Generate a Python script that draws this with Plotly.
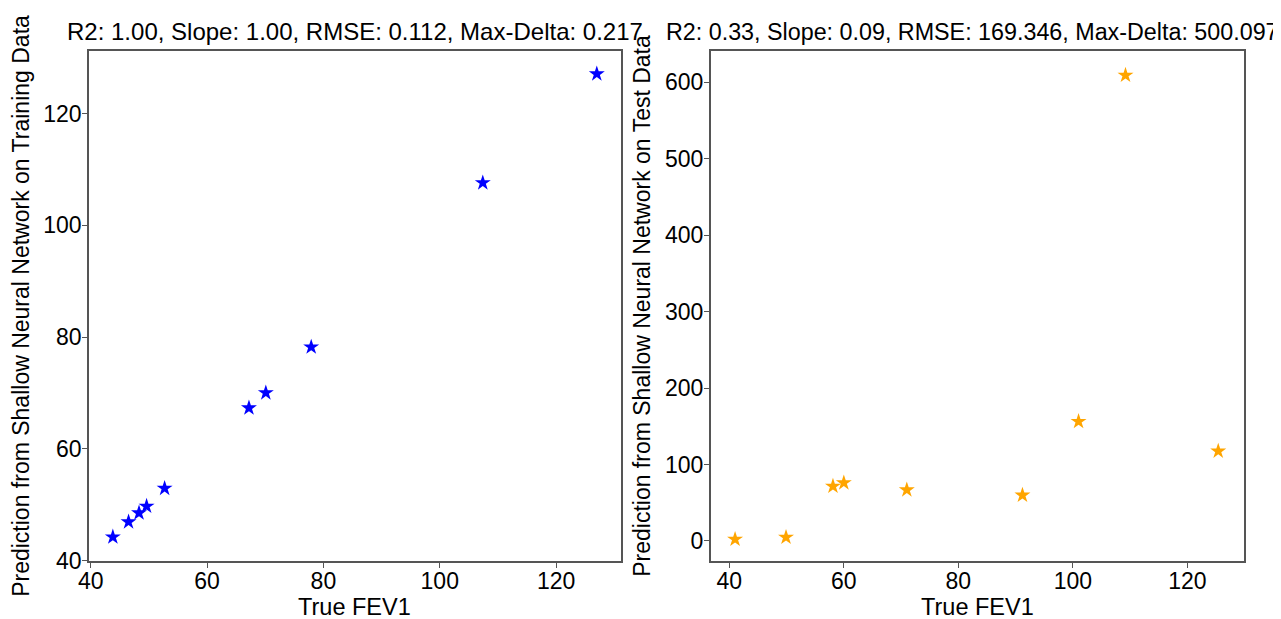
import plotly.graph_objects as go
from plotly.subplots import make_subplots

# Training data (left)
train_true = [43.8, 46.5, 48.3, 49.6, 52.7, 67.2, 70.1, 77.9, 107.4, 127.0]
train_pred = [44.2, 46.9, 48.5, 49.7, 52.9, 67.3, 70.0, 78.2, 107.6, 127.1]

# Test data (right)
test_true = [41.0, 49.9, 58.1, 60.0, 71.0, 91.2, 101.0, 109.2, 125.4]
test_pred = [2.2, 4.8, 71.6, 76.0, 66.8, 59.9, 156.3, 609.3, 117.5]

titles = [
    "R2: 1.00, Slope: 1.00, RMSE: 0.112, Max-Delta: 0.217",
    "R2: 0.33, Slope: 0.09, RMSE: 169.346, Max-Delta: 500.097",
]
x_label = "True FEV1"
y_labels = [
    "Prediction from Shallow Neural Network on Training Data",
    "Prediction from Shallow Neural Network on Test Data",
]

FONT = "Liberation Sans, Arial, sans-serif"
AX = "#555555"

fig = make_subplots(rows=1, cols=2, horizontal_spacing=0.078)

fig.add_trace(go.Scatter(x=train_true, y=train_pred, mode="markers",
                         marker=dict(symbol="star", size=12, color="#0000FF",
                                     line=dict(color="#0000FF", width=0)),
                         showlegend=False), row=1, col=1)
fig.add_trace(go.Scatter(x=test_true, y=test_pred, mode="markers",
                         marker=dict(symbol="star", size=12, color="#FFA500",
                                     line=dict(color="#FFA500", width=0)),
                         showlegend=False), row=1, col=2)

common = dict(showgrid=False, zeroline=False, showline=True, linecolor=AX, linewidth=1.5,
              mirror=True, ticks="outside", ticklen=5, tickcolor=AX, tickwidth=1.2,
              automargin=False,
              tickfont=dict(size=23, color="#000000", family=FONT))

fig.update_xaxes(**common, ticklabelstandoff=-6)
fig.update_yaxes(**common, ticklabelstandoff=-4)

dom1 = [0.0, 0.4603]
dom2 = [0.5383, 1.0]
fig.update_xaxes(domain=dom1, range=[39.7, 131.1], tickvals=[40, 60, 80, 100, 120], row=1, col=1)
fig.update_yaxes(range=[39.9, 131.2], tickvals=[40, 60, 80, 100, 120],
                 title=dict(text=y_labels[0], font=dict(size=23, family=FONT, color="#000"), standoff=8),
                 row=1, col=1)
fig.update_xaxes(domain=dom2, range=[36.75, 129.9], tickvals=[40, 60, 80, 100, 120], row=1, col=2)
fig.update_yaxes(range=[-26.2, 641], tickvals=[0, 100, 200, 300, 400, 500, 600],
                 title=dict(text=y_labels[1], font=dict(size=23, family=FONT, color="#000"), standoff=8),
                 row=1, col=2)

# subplot titles
title_x = [0.2303, 0.7650]
title_size = [24, 23.3]
for c, t, s in zip(title_x, titles, title_size):
    fig.add_annotation(x=c, y=1, xref="paper", yref="paper", text=t, showarrow=False,
                       xanchor="center", yanchor="bottom", yshift=4,
                       font=dict(size=s, family=FONT, color="#000"))

# x-axis titles
for d in (dom1, dom2):
    fig.add_annotation(x=(d[0] + d[1]) / 2, y=-0.0902, xref="paper", yref="paper", text=x_label,
                       showarrow=False, xanchor="center", yanchor="middle",
                       font=dict(size=23.5, family=FONT, color="#000"))

# page body has an 8px margin, so the figure is sized and placed to compensate
fig.update_layout(width=1273, height=611, margin=dict(l=81, r=37, t=43, b=58),
                  plot_bgcolor="white", paper_bgcolor="white",
                  font=dict(family=FONT))

fig.write_html("out.html")
